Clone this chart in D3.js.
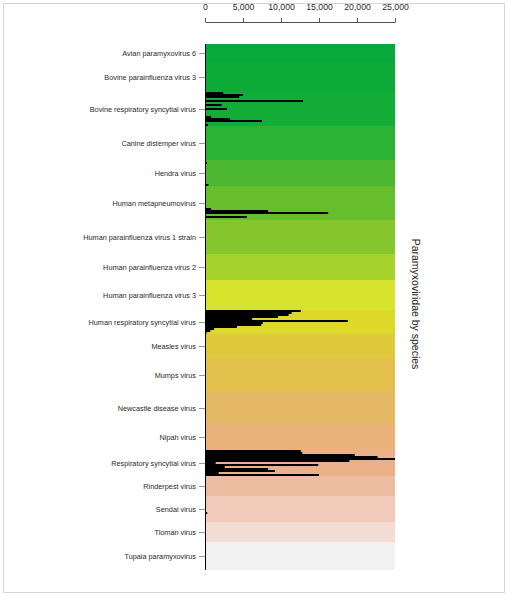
<!DOCTYPE html>
<html>
<head>
<meta charset="utf-8">
<script src="https://cdn.jsdelivr.net/npm/d3@7"></script>
<style>
  html, body { margin: 0; padding: 0; background: #fff; }
  svg { display: block; font-family: "Liberation Sans", Arial, Helvetica, sans-serif; }
</style>
</head>
<body>
<svg id="chart" width="508" height="596"></svg>
<script>
// ---- DATA ----
const species = [
  "Avian paramyxovirus 6",
  "Bovine parainfluenza virus 3",
  "Bovine respiratory syncytial virus",
  "Canine distemper virus",
  "Hendra virus",
  "Human metapneumovirus",
  "Human parainfluenza virus 1 strain",
  "Human parainfluenza virus 2",
  "Human parainfluenza virus 3",
  "Human respiratory syncytial virus",
  "Measles virus",
  "Mumps virus",
  "Newcastle disease virus",
  "Nipah virus",
  "Respiratory syncytial virus",
  "Rinderpest virus",
  "Sendai virus",
  "Tioman virus",
  "Tupaia paramyxovirus"
];

// one value per record (row) in each species band
const avianPMV6   = [0,0,0,0,0,0,0,0,0];
const bovinePIV3  = [0,0,0,0,0,150,0,0,0,0,0,0,0,0,0];
const bovineRSV   = [2400,5000,4500,0,12900,0,2200,0,2900,0,0,0,800,3300,7500,0,400];
const canineDV    = [0,0,0,0,0,0,0,0,0,0,0,0,0,0,0,0,0];
const hendra      = [0,250,0,0,0,100,0,0,0,0,100,0,450];
const humanMPV    = [0,0,0,100,0,0,0,0,0,0,0,800,8300,16200,0,5500,0];
const humanPIV1   = [0,0,0,0,0,0,0,0,0,0,0,0,0,0,0,0,0];
const humanPIV2   = [0,0,0,0,0,100,0,0,0,0,0,0,0];
const humanPIV3   = [0,0,0,0,0,0,0,0,0,0,0,0,0,0,0];
const humanRSV    = [12600,11400,11000,9600,6200,18800,7600,7400,4200,1200,700,200];
const measles     = [0,0,0,0,0,0,0,0,0,0,0,0];
const mumps       = [0,0,0,0,0,0,0,0,0,0,0,0,0,0,0,0,0];
const newcastle   = [0,0,0,0,0,0,0,0,0,0,0,0,0,0,0,0];
const nipah       = [0,0,0,0,0,0,0,0,0,0,0,0,0];
const rsv         = [12600,12800,19700,22700,25000,19000,1400,14900,2600,8300,9200,1800,15000];
const rinderpest  = [0,0,0,0,0,0,0,0,0,0];
const sendai      = [0,0,0,0,0,0,0,0,300,100,0,0,0];
const tioman      = [0,0,0,0,0,0,0,0,0,0];
const tupaia      = [0,0,0,0,0,0,0,0,0,0,0,0,0,0];

const seriesValues = [avianPMV6, bovinePIV3, bovineRSV, canineDV, hendra, humanMPV,
  humanPIV1, humanPIV2, humanPIV3, humanRSV, measles, mumps, newcastle, nipah, rsv,
  rinderpest, sendai, tioman, tupaia];

const bandColors = [
  "#07a83c", "#0cab38", "#12ad36", "#2bb334", "#4bb830", "#66be2d",
  "#86c62d", "#a7d12d", "#d6e42e", "#ded82a", "#e0c93a", "#e3c04c",
  "#e5b963", "#e9b27a", "#ebb089", "#eebca0", "#f1cab9", "#f2dcd4", "#f2f1f1"
];

const xTicks = [0, 5000, 10000, 15000, 20000, 25000];
const title = "Paramyxoviridae by species";

// ---- LAYOUT ----
const svg = d3.select("#chart");
const W = 508, H = 596;
const mLeft = 205, mRight = 395, mTop = 44, mBottom = 570;

svg.append("rect").attr("x", 3.5).attr("y", 3.5).attr("width", W - 7).attr("height", H - 7)
  .attr("fill", "#fff").attr("stroke", "#d6d6d6").attr("stroke-width", 1);

// cumulative row offsets
const starts = [];
let acc = 0;
seriesValues.forEach(v => { starts.push(acc); acc += v.length; });
const totalRows = acc;

const x = d3.scaleLinear().domain([0, 25000]).range([mLeft, mRight]);
const y = d3.scaleLinear().domain([0, totalRows]).range([mTop, mBottom]);

const bands = species.map((s, i) => ({
  name: s, color: bandColors[i], start: starts[i], n: seriesValues[i].length
}));

// background bands
svg.append("g").selectAll("rect").data(bands).join("rect")
  .attr("x", x(0))
  .attr("width", x(25000) - x(0))
  .attr("y", d => y(d.start))
  .attr("height", d => y(d.start + d.n) - y(d.start))
  .attr("fill", d => d.color);

// bars
const rows = [];
seriesValues.forEach((vals, i) => vals.forEach((v, j) => {
  if (v > 0) rows.push({ v, row: starts[i] + j });
}));
svg.append("g").selectAll("rect").data(rows).join("rect")
  .attr("x", x(0))
  .attr("width", d => x(d.v) - x(0))
  .attr("y", d => y(d.row))
  .attr("height", d => y(d.row + 1) - y(d.row))
  .attr("fill", "#000");

// left axis (species labels at band centres)
const yBand = d3.scaleOrdinal()
  .domain(species)
  .range(bands.map(d => y(d.start + d.n / 2)));
const yAxis = d3.axisLeft(yBand).tickSize(6).tickPadding(3);
const gy = svg.append("g").attr("transform", `translate(${mLeft},0)`).call(yAxis);
gy.select(".domain").remove();
gy.selectAll(".tick line").attr("stroke", "#999");
gy.selectAll(".tick text").attr("fill", "#2a2a2a").style("font-size", "7.3px")
  .style("font-family", "'Liberation Sans', Arial, sans-serif");

svg.append("line")
  .attr("x1", mLeft + 0.5).attr("x2", mLeft + 0.5)
  .attr("y1", mTop).attr("y2", mBottom)
  .attr("stroke", "#000").attr("stroke-width", 1);

// top axis
const xAxis = d3.axisTop(x).tickValues(xTicks).tickFormat(d3.format(",")).tickSize(4).tickPadding(8).tickSizeOuter(0);
const gx = svg.append("g").attr("transform", "translate(0,22)").call(xAxis);
gx.select(".domain").attr("stroke", "#555");
gx.selectAll(".tick line").attr("stroke", "#555");
gx.selectAll(".tick text").attr("fill", "#2a2a2a").style("font-size", "8.7px")
  .style("font-family", "'Liberation Sans', Arial, sans-serif");

// right title
svg.append("text")
  .attr("transform", `translate(412,304) rotate(90)`)
  .attr("text-anchor", "middle")
  .attr("fill", "#222")
  .style("font-size", "10.5px")
  .text(title);
</script>
</body>
</html>
